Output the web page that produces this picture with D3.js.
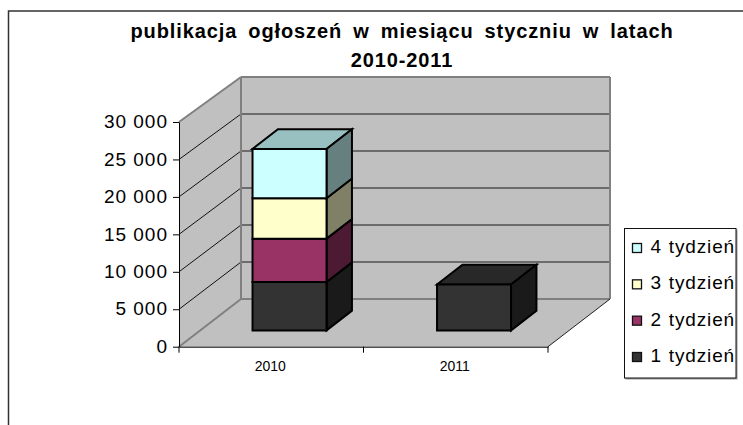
<!DOCTYPE html>
<html><head><meta charset="utf-8">
<script src="https://cdn.jsdelivr.net/npm/d3@7"></script>
<style>html,body{margin:0;padding:0;background:#fff}svg{display:block}text{font-family:"Liberation Sans",Arial,sans-serif;fill:#000}</style>
</head><body><div id="c"></div>
<script>
const titleLines = ["publikacja ogłoszeń w miesiącu styczniu w latach", "2010-2011"];
const categories = ["2010", "2011"];
const seriesNames = ["1 tydzień", "2 tydzień", "3 tydzień", "4 tydzień"];
const week1 = [6450, 6130];
const week2 = [5800, 0];
const week3 = [5400, 0];
const week4 = [6570, 0];
const yTicks = [0, 5000, 10000, 15000, 20000, 25000, 30000];
const colorsFront = ["#333333", "#993366", "#ffffcc", "#ccffff"];
const colorsSide = ["#1a1a1a", "#4d1a33", "#808066", "#668080"];
const colorsTop = ["#282828", "#7a2952", "#c0c099", "#99c0c0"];

const W = 743, H = 425;
const svg = d3.select("#c").append("svg").attr("width", W).attr("height", H);
const y = d3.scaleLinear().domain([0, 30000]).range([346.7, 122]);
const yBack = d3.scaleLinear().domain([0, 30000]).range([299, 77]);
const x = d3.scaleBand().domain(categories).range([179, 548]);
const dxS = d3.scaleLinear().domain([0, 1]).range([0, 62]);
const dyS = d3.scaleLinear().domain([0, 1]).range([0, -48]);
const P = (px, py, d) => [px + dxS(d), py + dyS(d)];
const F = (px, v) => [px, y(v)];
const B = (px, v) => [px + dxS(1), yBack(v)];
const line = pts => "M" + pts.map(p => p.join(",")).join("L");
const poly = pts => line(pts) + "Z";
const fmt = v => v === 0 ? "0" : d3.format(",")(v).replace(",", " ");
const x0 = x.range()[0], x1 = x.range()[1];
const top_ = yTicks[yTicks.length - 1];

// frame
svg.append("path").attr("d", `M8.5,425V11H743`).attr("fill", "none").attr("stroke", "#333").attr("stroke-width", 1.5);

// walls + floor
const wall = "#c0c0c0", edge = "#808080";
svg.append("path").attr("d", poly([B(x0, 0), B(x1, 0), B(x1, top_), B(x0, top_)])).attr("fill", wall);
svg.append("path").attr("d", poly([F(x0, 0), B(x0, 0), B(x0, top_), F(x0, top_)])).attr("fill", wall);
svg.append("path").attr("d", poly([F(x0, 0), F(x1, 0), B(x1, 0), B(x0, 0)])).attr("fill", wall);

// gridlines
yTicks.slice(1).forEach(t => {
  svg.append("path").attr("d", line([B(x0, t), B(x1, t)])).attr("stroke", t === top_ ? edge : "#505050").attr("stroke-width", t === top_ ? 2 : 1.3).attr("fill", "none");
  if (t < top_) svg.append("path").attr("d", line([F(x0, t), B(x0, t)])).attr("stroke", "#111").attr("stroke-width", 1).attr("fill", "none");
});
// wall edges
[[F(x0, 0), B(x0, 0)], [B(x0, 0), B(x1, 0)], [B(x0, 0), B(x0, top_)],
 [F(x0, top_), B(x0, top_)], [B(x1, 0), B(x1, top_)]].forEach(s =>
  svg.append("path").attr("d", line(s)).attr("stroke", edge).attr("stroke-width", 2).attr("fill", "none"));
svg.append("path").attr("d", line([F(x1, 0), B(x1, 0)])).attr("stroke", "#222").attr("stroke-width", 1).attr("fill", "none");

// axes
const yAxisG = svg.append("g").attr("transform", `translate(${x0},0)`)
  .call(d3.axisLeft(y).tickValues(yTicks).tickFormat(fmt).tickSize(6).tickSizeOuter(0).tickPadding(5));
yAxisG.selectAll("text").attr("font-size", 19).attr("dy", "0.3em").attr("style", "letter-spacing:1px;font-family:'Liberation Sans'");
yAxisG.selectAll("line,path").attr("stroke", "#000").attr("stroke-width", 1);
const xAxisG = svg.append("g").attr("transform", `translate(0,${y(0)})`)
  .call(d3.axisBottom(x).tickSize(0).tickSizeOuter(0).tickPadding(14));
xAxisG.selectAll("text").attr("font-size", 14).attr("style", "font-family:'Liberation Sans'").attr("dx", -1);
xAxisG.selectAll("path").attr("stroke", "#000");
[x0, (x0 + x1) / 2, x1].forEach(t => xAxisG.append("line").attr("x1", t).attr("x2", t).attr("y1", 0).attr("y2", 6).attr("stroke", "#000"));

// bars
const series = [week1, week2, week3, week4];
const barW = 74, dFront = 0.34, dBack = 0.75, shift = -2.8;
categories.forEach((c, i) => {
  const xl = x(c) + x.bandwidth() / 2 - barW / 2 + shift, xr = xl + barW;
  let base = 0;
  series.forEach((vals, s) => {
    const v = vals[i];
    if (!v) return;
    const yb = y(base), yt = y(base + v);
    const g = svg.append("g").attr("stroke", "#000").attr("stroke-width", 2).attr("stroke-linejoin", "miter");
    const isTop = series.slice(s + 1).every(a => !a[i]);
    if (isTop) g.append("path").attr("d", poly([P(xl, yt, dFront), P(xr, yt, dFront), P(xr, yt, dBack), P(xl, yt, dBack)])).attr("fill", colorsTop[s]);
    g.append("path").attr("d", poly([P(xr, yb, dFront), P(xr, yb, dBack), P(xr, yt, dBack), P(xr, yt, dFront)])).attr("fill", colorsSide[s]);
    g.append("path").attr("d", poly([P(xl, yb, dFront), P(xr, yb, dFront), P(xr, yt, dFront), P(xl, yt, dFront)])).attr("fill", colorsFront[s]);
    base += v;
  });
});

// title
titleLines.forEach((t, i) => svg.append("text").attr("x", 402).attr("y", 37.5 + i * 29.5).attr("text-anchor", "middle")
  .attr("font-size", 20).attr("font-weight", "bold").attr("style", "letter-spacing:0.9px;word-spacing:4.6px").text(t));

// legend
svg.append("rect").attr("x", 625.5).attr("y", 229.5).attr("width", 112).attr("height", 150).attr("fill", "#999");
svg.append("rect").attr("x", 624.5).attr("y", 228.5).attr("width", 111.5).attr("height", 149.5).attr("fill", "#fff").attr("stroke", "#111").attr("stroke-width", 1);
const legendY = d3.scalePoint().domain(seriesNames.slice().reverse()).range([248, 357]);
seriesNames.forEach((n, i) => {
  const cy = legendY(n);
  svg.append("rect").attr("x", 632.5).attr("y", cy - 4.5).attr("width", 9).attr("height", 9).attr("fill", colorsFront[i]).attr("stroke", "#111").attr("stroke-width", 1.3);
  svg.append("text").attr("x", 650.5).attr("y", cy + 5).attr("font-size", 19).attr("style", "letter-spacing:0.85px;word-spacing:0.8px").text(n);
});
</script></body></html>
